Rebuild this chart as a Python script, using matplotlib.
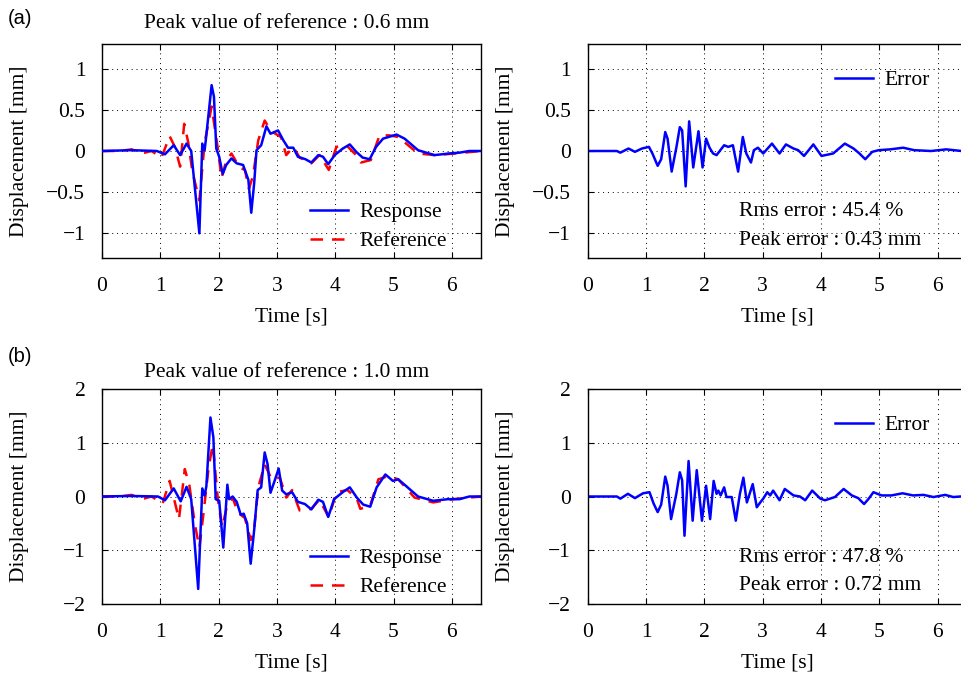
import matplotlib
matplotlib.use("Agg")
import matplotlib.pyplot as plt

plt.rcParams['font.family'] = ['Liberation Serif', 'DejaVu Serif']

# ---------------- data (a) ----------------
t_resp_a = [0, 0.5, 0.94, 1.08, 1.23, 1.34, 1.45, 1.53, 1.67, 1.72,
            1.76, 1.78, 1.88, 1.92, 1.96, 2.01, 2.07, 2.13, 2.22, 2.31,
            2.42, 2.51, 2.56, 2.61, 2.65, 2.73, 2.82, 2.89, 3.02, 3.11,
            3.19, 3.28, 3.36, 3.49, 3.59, 3.71, 3.79, 3.88, 3.99, 4.13,
            4.25, 4.36, 4.47, 4.59, 4.70, 4.82, 4.96, 5.05, 5.19, 5.42,
            5.70, 5.96, 6.13, 6.30, 6.5]
resp_a = [0, 0.01, 0, -0.04, 0.07, -0.05, 0.09, 0.0, -1.0, 0.09,
          0.01, 0.13, 0.80, 0.66, 0.03, -0.07, -0.28, -0.17, -0.09, -0.15,
          -0.17, -0.35, -0.75, -0.39, 0.01, 0.07, 0.30, 0.21, 0.25, 0.13,
          0.04, 0.04, -0.07, -0.10, -0.14, -0.05, -0.07, -0.16, -0.05, 0.03,
          0.08, -0.01, -0.08, -0.10, 0.05, 0.15, 0.18, 0.20, 0.15, 0.01,
          -0.05, -0.03, -0.02, 0.0, 0.0]

t_ref_a = [0, 0.3, 0.51, 0.68, 0.85, 1.02, 1.16, 1.25, 1.34, 1.41,
           1.48, 1.55, 1.67, 1.76, 1.88, 1.99, 2.05, 2.13, 2.22, 2.36,
           2.45, 2.52, 2.59, 2.68, 2.79, 2.90, 3.07, 3.16, 3.28, 3.39,
           3.59, 3.73, 3.89, 4.02, 4.19, 4.36, 4.44, 4.61, 4.76, 4.93,
           5.08, 5.42, 5.71, 6.06, 6.5]
ref_a = [0, 0, 0.02, -0.03, 0, -0.08, 0.18, 0.05, -0.19, 0.33,
         0.10, -0.25, -0.60, 0.10, 0.54, 0.01, -0.33, -0.12, -0.03, -0.20,
         -0.23, -0.46, -0.30, 0.13, 0.37, 0.24, 0.17, -0.05, 0.05, -0.08,
         -0.15, -0.05, -0.23, 0.05, 0.07, -0.05, -0.14, -0.11, 0.19, 0.19,
         0.17, -0.03, -0.05, -0.03, 0.0]

t_err_a = [0, 0.5, 0.56, 0.70, 0.81, 0.93, 1.05, 1.11, 1.20, 1.26,
           1.33, 1.37, 1.44, 1.52, 1.58, 1.62, 1.68, 1.74, 1.81, 1.90,
           1.97, 2.03, 2.09, 2.15, 2.21, 2.34, 2.41, 2.49, 2.58, 2.66,
           2.72, 2.80, 2.85, 2.92, 3.01, 3.16, 3.29, 3.40, 3.53, 3.61,
           3.71, 3.87, 4.01, 4.21, 4.41, 4.56, 4.66, 4.76, 4.88, 4.99,
           5.19, 5.41, 5.60, 5.89, 6.15, 6.41, 6.5]
err_a = [0, 0, -0.02, 0.03, -0.01, 0.03, 0.05, -0.03, -0.18, -0.10,
         0.23, 0.15, -0.25, 0.04, 0.29, 0.25, -0.43, 0.36, -0.20, 0.24,
         -0.20, 0.15, 0.04, -0.03, -0.05, 0.07, 0.05, 0.07, -0.25, 0.17,
         -0.03, -0.14, 0.01, 0.04, -0.03, 0.09, -0.03, 0.08, 0.03, 0.01,
         -0.06, 0.08, -0.06, -0.03, 0.09, 0.03, -0.03, -0.10, -0.01, 0.01,
         0.02, 0.04, 0.01, 0.0, 0.02, 0.0, 0.0]

# ---------------- data (b) ----------------
t_resp_b = [0, 0.5, 0.96, 1.08, 1.23, 1.35, 1.45, 1.53, 1.65, 1.72,
            1.76, 1.79, 1.86, 1.91, 1.95, 2.01, 2.08, 2.15, 2.18, 2.24,
            2.31, 2.38, 2.43, 2.49, 2.55, 2.61, 2.67, 2.73, 2.79, 2.84,
            2.89, 2.96, 3.03, 3.09, 3.16, 3.26, 3.36, 3.48, 3.59, 3.71,
            3.79, 3.88, 3.98, 4.14, 4.25, 4.37, 4.48, 4.60, 4.71, 4.86,
            4.99, 5.08, 5.22, 5.42, 5.68, 5.93, 6.13, 6.30, 6.5]
resp_b = [0, 0.01, 0, -0.07, 0.15, -0.09, 0.18, -0.05, -1.72, 0.15,
          0.02, 0.19, 1.47, 1.10, -0.05, -0.08, -0.95, 0.22, -0.05, 0.0,
          -0.10, -0.34, -0.32, -0.50, -1.25, -0.62, 0.12, 0.17, 0.82, 0.60,
          0.07, 0.29, 0.52, 0.11, 0.04, 0.08, -0.10, -0.14, -0.24, -0.06,
          -0.10, -0.38, -0.05, 0.09, 0.17, -0.02, -0.15, -0.19, 0.17, 0.41,
          0.29, 0.32, 0.19, 0.0, -0.08, -0.05, -0.05, 0.0, 0.0]

t_ref_b = [0, 0.3, 0.51, 0.68, 0.85, 1.04, 1.16, 1.32, 1.42, 1.50,
           1.59, 1.67, 1.74, 1.83, 1.90, 1.99, 2.06, 2.14, 2.24, 2.33,
           2.45, 2.55, 2.61, 2.68, 2.79, 2.91, 3.05, 3.16, 3.26, 3.39,
           3.59, 3.73, 3.89, 4.02, 4.21, 4.37, 4.43, 4.60, 4.74, 4.91,
           5.08, 5.36, 5.68, 6.02, 6.5]
ref_b = [0, 0, 0.03, -0.05, 0, -0.13, 0.29, -0.42, 0.51, 0.20,
         -0.50, -0.95, -0.32, 0.55, 0.97, -0.08, -0.57, -0.20, -0.02, -0.30,
         -0.40, -0.81, -0.60, 0.17, 0.60, 0.32, 0.35, -0.02, 0.12, -0.26,
         -0.23, -0.06, -0.39, 0.08, 0.12, -0.04, -0.23, -0.17, 0.32, 0.38,
         0.32, -0.02, -0.11, -0.05, 0.0]

t_err_b = [0, 0.5, 0.56, 0.69, 0.81, 0.95, 1.06, 1.13, 1.20, 1.26,
           1.33, 1.37, 1.43, 1.52, 1.58, 1.62, 1.66, 1.73, 1.80, 1.87,
           1.96, 2.03, 2.10, 2.16, 2.21, 2.24, 2.28, 2.34, 2.38, 2.47,
           2.54, 2.61, 2.67, 2.73, 2.83, 2.90, 2.96, 3.01, 3.08, 3.13,
           3.18, 3.29, 3.38, 3.53, 3.64, 3.73, 3.85, 3.99, 4.07, 4.24,
           4.39, 4.53, 4.64, 4.74, 4.82, 4.90, 5.04, 5.21, 5.40, 5.58,
           5.76, 5.93, 6.13, 6.27, 6.39, 6.5]
err_b = [0, 0, -0.04, 0.05, -0.03, 0.06, 0.08, -0.13, -0.29, -0.15,
         0.37, 0.20, -0.42, 0.05, 0.45, 0.30, -0.73, 0.66, -0.45, 0.49,
         -0.45, 0.20, -0.42, 0.29, 0.05, 0.11, 0.02, 0.17, -0.01, -0.01,
         -0.45, 0.05, 0.35, -0.11, 0.23, -0.20, -0.11, -0.04, 0.08, 0.02,
         0.11, -0.07, 0.14, 0.02, 0.0, -0.07, 0.11, -0.04, -0.07, -0.01,
         0.14, 0.02, -0.03, -0.14, -0.04, 0.08, 0.02, 0.02, 0.06, 0.02,
         0.03, -0.01, 0.03, -0.01, 0.0, 0.0]

x_ticks = [0, 1, 2, 3, 4, 5, 6]
x_ticklabels = ['0', '1', '2', '3', '4', '5', '6']
y_ticks_a = [-1, -0.5, 0, 0.5, 1]
y_ticklabels_a = ['\u22121', '\u22120.5', '0', '0.5', '1']
y_ticks_b = [-2, -1, 0, 1, 2]
y_ticklabels_b = ['\u22122', '\u22121', '0', '1', '2']

titles = ['Peak value of reference : 0.6 mm', 'Peak value of reference : 1.0 mm']
panel_labels = ['(a)', '(b)']
rms_texts = ['Rms error : 45.4 %', 'Rms error : 47.8 %']
peak_texts = ['Peak error : 0.43 mm', 'Peak error : 0.72 mm']

# ---------------- figure ----------------
W, H = 962, 679
fig = plt.figure(figsize=(W / 100, H / 100), dpi=100)
FS = 15.5
LW = 1.8


def fx(px):
    return px / W


def fy(py):
    return 1 - py / H


def make_ax(left, top, bottom, width):
    return fig.add_axes([fx(left), fy(bottom), width / W, (bottom - top) / H])


def style(ax, yticks, yticklabels, ylim):
    ax.set_xlim(0, 6.5)
    ax.set_ylim(*ylim)
    ax.set_xticks(x_ticks)
    ax.set_xticklabels(x_ticklabels)
    ax.set_yticks(yticks)
    ax.set_yticklabels(yticklabels)
    ax.grid(True, linestyle=(0, (1, 4)), color='k', linewidth=0.7)
    ax.tick_params(direction='in', length=4, width=0.8, top=True, right=True,
                   labelsize=FS)
    ax.tick_params(axis='x', pad=14)
    ax.tick_params(axis='y', pad=12)
    for s in ax.spines.values():
        s.set_linewidth(1.0)
    ax.set_xlabel('Time [s]', fontsize=FS, labelpad=8)
    ax.set_ylabel('Displacement [mm]', fontsize=FS)
    ax.yaxis.set_label_coords(-0.193, 0.5)


rows = [
    dict(top=44, bottom=258, yt=y_ticks_a, yl=y_ticklabels_a, ylim=(-1.3, 1.3),
         tr=t_resp_a, r=resp_a, tf=t_ref_a, f=ref_a, te=t_err_a, e=err_a,
         title_y=24, lab_y=18),
    dict(top=389, bottom=604, yt=y_ticks_b, yl=y_ticklabels_b, ylim=(-2, 2),
         tr=t_resp_b, r=resp_b, tf=t_ref_b, f=ref_b, te=t_err_b, e=err_b,
         title_y=372, lab_y=357),
]

for i, rw in enumerate(rows):
    axL = make_ax(102, rw['top'], rw['bottom'], 379)
    axR = make_ax(587.7, rw['top'], rw['bottom'], 379)

    axL.plot(rw['tr'], rw['r'], color='#0000ff', lw=LW, label='Response', zorder=3)
    axL.plot(rw['tf'], rw['f'], color='#ff0000', lw=LW, dashes=(5, 3.6),
             label='Reference', zorder=2)
    axR.plot(rw['te'], rw['e'], color='#0000ff', lw=LW, label='Error')

    for ax in (axL, axR):
        style(ax, rw['yt'], rw['yl'], rw['ylim'])

    leg_top = rw['bottom'] - 56
    axL.legend(loc='upper left', bbox_to_anchor=(fx(310), fy(leg_top)),
               bbox_transform=fig.transFigure, frameon=False, fontsize=FS,
               handlelength=1.75, handletextpad=0.55, labelspacing=0.42,
               borderpad=0, borderaxespad=0)
    axR.legend(loc='upper left', bbox_to_anchor=(fx(835), fy(rw['top'] + 26)),
               bbox_transform=fig.transFigure, frameon=False, fontsize=FS,
               handlelength=1.75, handletextpad=0.55, borderpad=0, borderaxespad=0)

    fig.text(fx(739), fy(rw['bottom'] - 46), rms_texts[i], fontsize=FS,
             ha='left', va='center')
    fig.text(fx(739), fy(rw['bottom'] - 18), peak_texts[i], fontsize=FS,
             ha='left', va='center')

    fig.text(fx(287), fy(rw['title_y']), titles[i], fontsize=FS,
             ha='center', va='center')
    fig.text(fx(8), fy(rw['lab_y']), panel_labels[i], fontsize=14.5,
             family=['Liberation Sans', 'DejaVu Sans'], ha='left', va='center')

fig.savefig('out.png', dpi=100)
